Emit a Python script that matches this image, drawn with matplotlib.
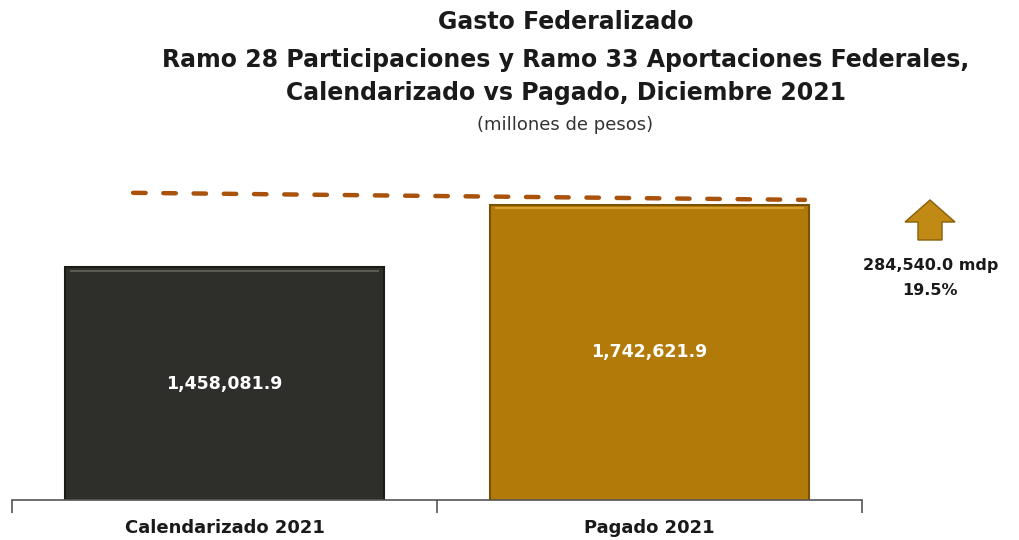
import matplotlib.pyplot as plt
from matplotlib.patches import Polygon

# data
categorias = ['Calendarizado 2021', 'Pagado 2021']
valores = [1458081.9, 1742621.9]
etiquetas = ['1,458,081.9', '1,742,621.9']
linea_ref = [1797000, 1765000]   # dashed reference line (left, right)
diferencia = '284,540.0 mdp'
variacion = '19.5%'

plt.rcParams['font.family'] = ['DejaVu Sans']

fig = plt.figure(figsize=(10.19, 5.4), dpi=100)
ax = fig.add_axes([0.0118, 0.074, 0.834, 0.63])

colores = ['#2e2e2a', '#b27a08']
bordes = ['#1a1a17', '#7a5205']
x = list(range(len(categorias)))
bars = ax.bar(x, valores, width=0.75, color=colores, edgecolor=bordes, linewidth=1.5, zorder=2)

# bevel strip on top of each bar
for b, c in zip(bars, ['#5a5a54', '#d8a030']):
    ax.bar(b.get_x() + b.get_width() / 2, 9000, bottom=b.get_height() - 20000,
           width=b.get_width() * 0.97, color=c, linewidth=0, zorder=3)

for xi, v, lab in zip(x, valores, etiquetas):
    ax.text(xi, (v + 400000) / 2, lab, ha='center', va='center', color='white',
            fontsize=12.5, fontweight='bold', zorder=4)

ax.plot([-0.215, 1.366], linea_ref, ls=(0, (2.8, 4.0)), color='#a8520c', lw=3.2,
        dash_capstyle='round', zorder=1, clip_on=False)

ax.set_xlim(-0.5, 1.5)
ax.set_ylim(400000, 1947000)
for s in ['top', 'right', 'left']:
    ax.spines[s].set_visible(False)
ax.spines['bottom'].set_color('#555555')
ax.spines['bottom'].set_linewidth(1.2)
ax.set_yticks([])
ax.set_xticks(x)
ax.set_xticklabels(categorias, fontsize=13, fontweight='bold', color='#1a1a1a')
ax.tick_params(axis='x', which='major', length=0, pad=14)
ax.set_xticks([-0.5, 0.5, 1.5], minor=True)
ax.tick_params(axis='x', which='minor', length=9, direction='out', color='#555555', width=1.2)

# titles
fig.text(0.555, 0.959, 'Gasto Federalizado', ha='center', va='center', fontsize=17, fontweight='bold', color='#1a1a1a')
fig.text(0.555, 0.889, 'Ramo 28 Participaciones y Ramo 33 Aportaciones Federales,', ha='center', va='center',
         fontsize=17, fontweight='bold', color='#1a1a1a')
fig.text(0.555, 0.828, 'Calendarizado vs Pagado, Diciembre 2021', ha='center', va='center',
         fontsize=17, fontweight='bold', color='#1a1a1a')
fig.text(0.555, 0.769, '(millones de pesos)', ha='center', va='center', fontsize=13, color='#333333')

# up arrow
cx, y0, y1, yh = 9.30, 3.00, 3.40, 3.18
flecha = Polygon([(cx - 0.12, y0), (cx + 0.12, y0), (cx + 0.12, yh), (cx + 0.25, yh),
                  (cx, y1), (cx - 0.25, yh), (cx - 0.12, yh)], closed=True,
                 facecolor='#c08a14', edgecolor='#8a5e08', lw=1, transform=fig.dpi_scale_trans)
fig.add_artist(flecha)

fig.text(0.913, 0.508, diferencia, ha='center', va='center', fontsize=11.5, fontweight='bold', color='#1a1a1a')
fig.text(0.913, 0.462, variacion, ha='center', va='center', fontsize=11.5, fontweight='bold', color='#1a1a1a')

fig.savefig('out.png', dpi=100)
